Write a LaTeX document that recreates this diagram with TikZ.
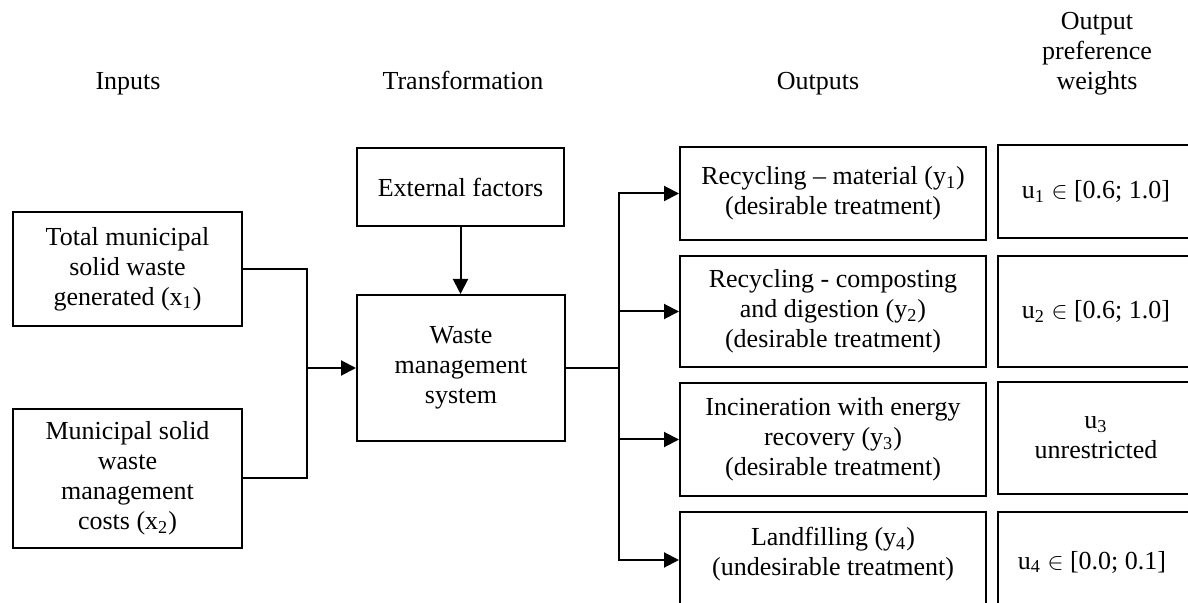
\documentclass[tikz,border=0pt]{standalone}
\usepackage{fontspec}
\setmainfont{Liberation Serif}
\usetikzlibrary{arrows.meta}
\begin{document}
\begin{tikzpicture}[x=0.5pt,y=-0.5pt,
  every node/.style={font=\fontsize{13pt}{15pt}\selectfont},
  box/.style={draw, line width=1pt, align=center, inner sep=2pt},
  lbl/.style={align=center, inner sep=0pt},
  conn/.style={line width=1pt},
  arr/.style={line width=1pt, -{Triangle[length=7.5pt,width=7.5pt]}}]
\useasboundingbox (0,0) rectangle (1188,603);
\clip (0,0) rectangle (1188,603);
% titles
\node[lbl, anchor=base] (tin) at (128,90) {Inputs};
\node[lbl, anchor=base] (ttr) at (463,90) {Transformation};
\node[lbl, anchor=base] (tout) at (818,90) {Outputs};
\node[lbl, anchor=base] (tw) at (1097,90) {Output\\preference\\weights};
% inputs
\node[box, minimum width=114.5pt, minimum height=57pt] (i1) at (127.5,269) {Total municipal\\solid waste\\generated (x\textsubscript{1})};
\node[box, minimum width=114.5pt, minimum height=69.5pt] (i2) at (127.5,478.5) {Municipal solid\\waste\\management\\costs (x\textsubscript{2})};
% transformation
\node[box, minimum width=103.5pt, minimum height=39pt] (ext) at (460.5,187) {External factors};
\node[box, minimum width=104pt, minimum height=73pt] (wm) at (461,368) {Waste\\management\\system};
% outputs
\node[box, minimum width=153pt, minimum height=46.5pt] (o1) at (833,193.5) {Recycling -- material (y\textsubscript{1})\\(desirable treatment)};
\node[box, minimum width=153pt, minimum height=55.5pt] (o2) at (833,311.5) {Recycling - composting\\and digestion (y\textsubscript{2})\\(desirable treatment)};
\node[box, minimum width=153pt, minimum height=56.5pt] (o3) at (833,439.5) {Incineration with energy\\recovery (y\textsubscript{3})\\(desirable treatment)};
\node[box, minimum width=153pt, minimum height=48pt] (o4) at (833,560) {};
\node[lbl] (o4t) at (833,554) {Landfilling (y\textsubscript{4})\\(undesirable treatment)};
% weights
\node[box, minimum width=98pt, minimum height=46.5pt] (w1) at (1096,191.5) {u\textsubscript{1} $\in$ [0.6; 1.0]};
\node[box, minimum width=98pt, minimum height=55.5pt] (w2) at (1096,311.5) {u\textsubscript{2} $\in$ [0.6; 1.0]};
\node[box, minimum width=98pt, minimum height=56pt] (w3) at (1096,438) {u\textsubscript{3}\\unrestricted};
\node[box, minimum width=98pt, minimum height=50pt] (w4) at (1096,562) {};
\node[lbl] (w4t) at (1092,562) {u\textsubscript{4} $\in$ [0.0; 0.1]};
% connectors
\coordinate (jl) at (307,368);
\coordinate (jr) at (619,368);
\draw[conn] (i1.east) -| (jl);
\draw[conn] (i2.east) -| (jl);
\draw[arr] (jl) -- (wm.west);
\draw[arr] (ext.south) -- (ext.south |- wm.north);
\draw[conn] (wm.east) -- (jr);
\draw[arr] (jr) |- (o1.west);
\draw[arr] (jr) |- (o2.west);
\draw[arr] (jr) |- (o3.west);
\draw[arr] (jr) |- (o4.west);
\end{tikzpicture}
\end{document}
